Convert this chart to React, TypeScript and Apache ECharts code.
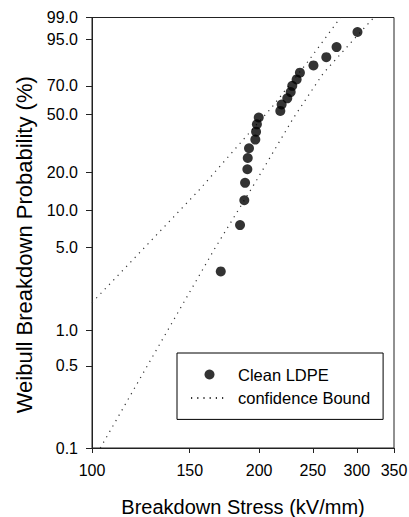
import { useEffect, useRef } from "react";
import * as echarts from "echarts";

// Breakdown data (Clean LDPE)
const stressKVmm = [170.6, 184.8, 188.1, 188.7, 190.5, 190.8, 191.8, 196.9, 197.5, 198.2, 199.7, 218.4, 219.6, 224.8, 228.0, 229.5, 233.7, 236.9, 250.6, 264.3, 275.8, 300.8];
const probabilityPct = [3.13, 7.59, 12.05, 16.52, 20.98, 25.45, 29.91, 34.38, 38.84, 43.3, 47.77, 52.23, 56.7, 61.16, 65.63, 70.09, 74.55, 79.02, 83.48, 87.95, 92.41, 96.88];

// Confidence bounds
const boundAStress = [100.0, 136.8, 156.6, 184.8, 210.1, 243.6, 280.3];
const boundAPct = [1.71, 7.84, 14.8, 32.4, 54.0, 84.7, 99.0];
const boundBStress = [103.5, 132.7, 166.1, 198.0, 230.4, 260.9, 296.3, 321.9];
const boundBPct = [0.1, 0.775, 4.79, 17.36, 47.2, 78.6, 95.04, 99.0];

// Tick values
const xTicks = [100, 150, 200, 250, 300, 350];
const yTicksPct = [0.1, 0.5, 1, 5, 10, 20, 50, 70, 95, 99];

const FONT = "'Liberation Sans', Arial, Helvetica, sans-serif";

const wb = (p: number) => Math.log(-Math.log(1 - p / 100));
const lx = (s: number) => Math.log(s);

export default function App() {
  const ref = useRef<HTMLDivElement>(null);
  useEffect(() => {
    if (!ref.current) return;
    const chart = echarts.init(ref.current, undefined, { renderer: "svg" });
    const pts = stressKVmm.map((s, i) => [lx(s), wb(probabilityPct[i])]);
    const bA = boundAStress.map((s, i) => [lx(s), wb(boundAPct[i])]);
    const bB = boundBStress.map((s, i) => [lx(s), wb(boundBPct[i])]);
    const boundStyle = { type: [1.2, 5] as any, width: 1.2, color: "#333" };
    chart.setOption({
      animation: false,
      backgroundColor: "#fff",
      textStyle: { fontFamily: FONT, color: "#000" },
      grid: {
        left: 92,
        right: 15,
        top: 17.5,
        bottom: 69,
        show: true,
        borderColor: "#222",
        borderWidth: 1,
        backgroundColor: "transparent",
        outerBoundsMode: "none",
      },
      legend: {
        orient: "vertical",
        left: 177,
        top: 353,
        padding: [13, 13, 13, 13],
        itemWidth: 37,
        itemHeight: 10,
        itemGap: 6.4,
        borderColor: "#000",
        borderWidth: 1,
        backgroundColor: "#fff",
        textStyle: { fontFamily: FONT, fontSize: 16.5, color: "#000", lineHeight: 16, padding: [0, 0, 0, 5] },
        data: [
          { name: "Clean LDPE", icon: "circle" },
          { name: "confidence Bound", itemStyle: { opacity: 0 } },
        ],
      },
      xAxis: {
        type: "value",
        min: lx(100),
        max: lx(350),
        name: "Breakdown Stress (kV/mm)",
        nameLocation: "middle",
        nameGap: 49,
        nameTextStyle: { fontFamily: FONT, fontSize: 20, color: "#000" },
        axisLine: { onZero: false, lineStyle: { color: "#222", width: 1 } },
        axisTick: { show: true, length: 5, lineStyle: { color: "#222" }, customValues: xTicks.map(lx) },
        axisLabel: {
          fontFamily: FONT,
          fontSize: 16,
          color: "#000",
          margin: 14,
          customValues: xTicks.map(lx),
          formatter: (v: number) => String(Math.round(Math.exp(v))),
        },
        splitLine: { show: false },
      },
      yAxis: {
        type: "value",
        min: wb(0.1),
        max: wb(99),
        name: "Weibull Breakdown Probability (%)",
        nameLocation: "middle",
        nameGap: 57,
        nameTextStyle: { fontFamily: FONT, fontSize: 22, color: "#000", padding: [0, 24, 0, 0] },
        axisLine: { onZero: false, lineStyle: { color: "#222", width: 1 } },
        axisTick: { show: true, length: 6, lineStyle: { color: "#222" }, customValues: yTicksPct.map(wb) },
        axisLabel: {
          fontFamily: FONT,
          fontSize: 16,
          color: "#000",
          margin: 14,
          customValues: yTicksPct.map(wb),
          formatter: (v: number) => ((1 - Math.exp(-Math.exp(v))) * 100).toFixed(1),
        },
        splitLine: { show: false },
      },
      series: [
        {
          name: "confidence Bound",
          type: "line",
          data: bA,
          symbol: "none",
          lineStyle: boundStyle,
          itemStyle: { color: "#333" },
          z: 1,
        },
        {
          name: "confidence Bound",
          type: "line",
          data: bB,
          symbol: "none",
          lineStyle: boundStyle,
          itemStyle: { color: "#333" },
          z: 1,
        },
        {
          name: "Clean LDPE",
          type: "scatter",
          data: pts,
          symbol: "circle",
          symbolSize: 10,
          itemStyle: { color: "#000" },
          z: 3,
        },
      ],
    });
    return () => chart.dispose();
  }, []);
  return <div ref={ref} style={{ position: "absolute", left: 0, top: 0, width: 409, height: 517 }} />;
}
